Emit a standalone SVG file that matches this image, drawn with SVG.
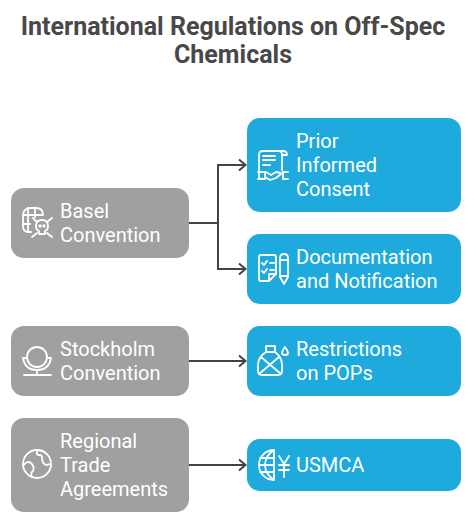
<svg xmlns="http://www.w3.org/2000/svg" width="475" height="526" viewBox="0 0 475 526">
<defs>
<style>
.t{font-family:Roboto,"Liberation Sans",sans-serif;font-size:20px;fill:#fff}
.h{font-family:Roboto,"Liberation Sans",sans-serif;font-size:25px;font-weight:700;fill:#484848;text-anchor:middle}
.g{fill:#a0a0a0}.b{fill:#1eaadc}
.i{fill:none;stroke:#fff;stroke-width:1.8;stroke-linecap:round;stroke-linejoin:round}
.c{fill:none;stroke:#434343;stroke-width:2}
</style>
<marker id="a" markerUnits="userSpaceOnUse" markerWidth="12" markerHeight="14" refX="10" refY="7" orient="auto"><path d="M3 1.5L9.5 7L3 12.5" fill="none" stroke="#434343" stroke-width="2"/></marker>
</defs>
<rect width="475" height="526" fill="#fff"/>
<g id="title"><text class="h" x="233" y="35">International Regulations on Off-Spec</text><text class="h" x="233" y="63">Chemicals</text></g>
<g id="connectors">
<path class="c" marker-end="url(#a)" d="M189 223H218V165H246"/>
<path class="c" marker-end="url(#a)" d="M189 223H218V269H246"/>
<path class="c" marker-end="url(#a)" d="M189 361H246"/>
<path class="c" marker-end="url(#a)" d="M189 465H246"/>
</g>
<g id="basel"><rect class="g" x="11" y="188" width="178" height="70" rx="13"/>
<g class="i"><path d="M31 232H27Q23 231 23 226V216Q23 208 31 208H36Q43 208 43 215M23 215H42M23 224H30M28 208V232M35 208V217"/><path d="M36 226Q36 220 42 220Q48 220 48 226Q48 230 45 231V234H39V231Q36 230 36 226Z"/><circle cx="40" cy="226" r=".8"/><circle cx="44" cy="226" r=".8"/><path d="M33 218L37 222M52 218L47 222M32 237L37 233M52 237L47 233"/></g>
<text class="t" x="60" y="218">Basel</text><text class="t" x="60" y="242">Convention</text></g>
<g id="prior"><rect class="b" x="247" y="118" width="214" height="94" rx="13"/>
<g class="i"><path d="M259 178V155Q259 151 263 151H283Q287 151 287 155H282Q282 151 279 151M282 155V170M263 156H275M263 160H275M263 165H270M259 178Q260 179 263 179M266 172L271 175L276 172L281 173M265 177L270 180L276 178L281 174M258 172H265V179H258M283 172H288M283 179H288M283 172V179"/></g>
<text class="t" x="296" y="148">Prior</text><text class="t" x="296" y="172">Informed</text><text class="t" x="296" y="196">Consent</text></g>
<g id="documentation"><rect class="b" x="247" y="234" width="214" height="70" rx="13"/>
<g class="i"><path d="M259 257Q259 255 261 255H274Q276 255 276 257V274L269 281H261Q259 281 259 279ZM276 274H269V281M262 263L264 265L267 261M270 263H274M262 271L264 273L267 269M270 270H274M280 268V258Q280 254 284 254Q288 254 288 258V277L284 284L280 277ZM280 260H288M280 276H288"/></g>
<text class="t" x="296" y="264">Documentation</text><text class="t" x="296" y="288">and Notification</text></g>
<g id="stockholm"><rect class="g" x="11" y="326" width="178" height="70" rx="13"/>
<g class="i"><circle cx="37" cy="357" r="10"/><path d="M23 358Q25 370 37 370Q49 370 51 358M23 358H26M48 358H51M37 370V375M24 375H51"/></g>
<text class="t" x="60" y="356">Stockholm</text><text class="t" x="60" y="380">Convention</text></g>
<g id="restrictions"><rect class="b" x="247" y="326" width="214" height="70" rx="13"/>
<g class="i"><path d="M266 352V346H275V352Q282 357 282 365V371Q282 375 278 375H262Q258 375 258 371V365Q258 357 266 352ZM266 352H275M261 357L281 374M279 357L259 374M285 347Q282 351 282 353Q282 355 285 355Q288 355 288 353Q288 351 285 347Z"/></g>
<text class="t" x="296" y="356">Restrictions</text><text class="t" x="296" y="380">on POPs</text></g>
<g id="regional"><rect class="g" x="11" y="418" width="178" height="94" rx="13"/>
<g class="i"><circle cx="37" cy="464" r="14"/><path d="M23 466Q27 460 31 463Q35 467 33 471Q30 473 32 477M38 450Q35 455 39 455Q43 455 42 459Q43 465 47 465Q50 463 51 466"/></g>
<text class="t" x="60" y="448">Regional</text><text class="t" x="60" y="472">Trade</text><text class="t" x="60" y="496">Agreements</text></g>
<g id="usmca"><rect class="b" x="247" y="439" width="214" height="52" rx="13"/>
<g class="i"><path d="M274 450A15 15 0 1 0 274 480ZM274 450Q265 456 265 465Q265 474 274 480M260 458H274M259 465H274M260 472H274M279 456L284 464L289 456M279 465H289M279 470H289M284 464V477"/></g>
<text class="t" x="296" y="472">USMCA</text></g>
</svg>
